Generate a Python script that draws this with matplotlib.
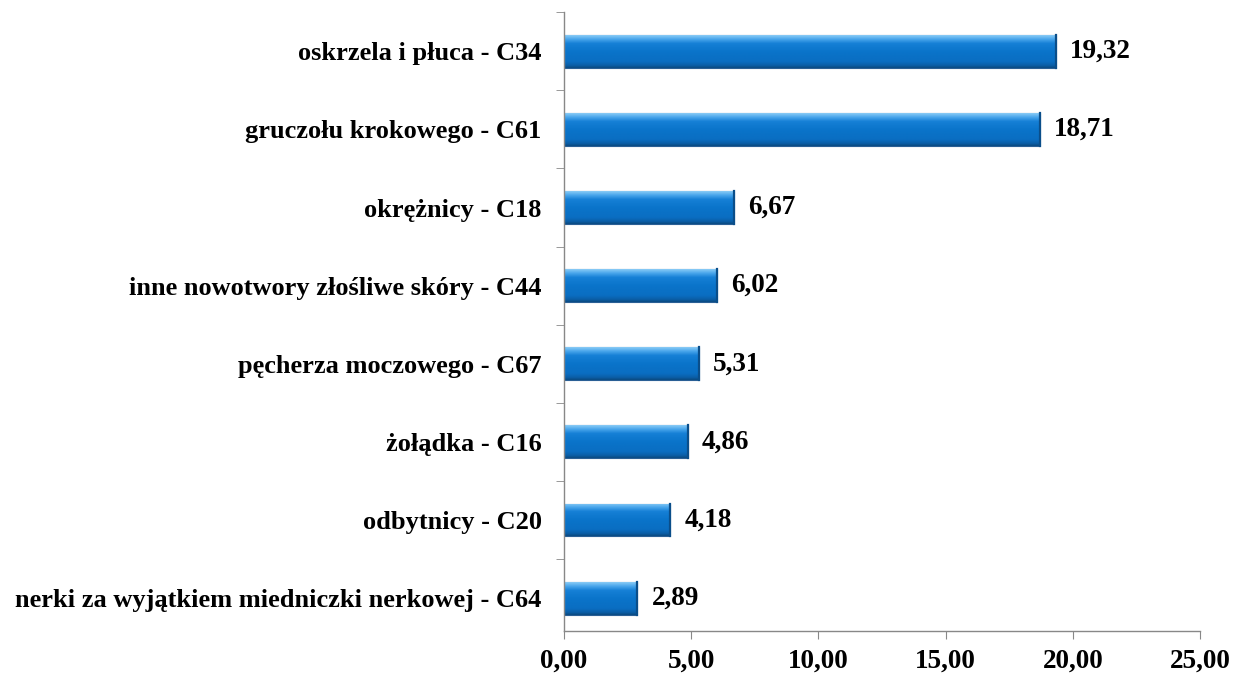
import matplotlib
matplotlib.use("Agg")
import matplotlib.pyplot as plt
import numpy as np
from matplotlib.colors import LinearSegmentedColormap

categories = [
    "oskrzela i płuca - C34",
    "gruczołu krokowego - C61",
    "okrężnicy - C18",
    "inne nowotwory złośliwe skóry - C44",
    "pęcherza moczowego - C67",
    "żołądka - C16",
    "odbytnicy - C20",
    "nerki za wyjątkiem miedniczki nerkowej - C64",
]
values = [19.32, 18.71, 6.67, 6.02, 5.31, 4.86, 4.18, 2.89]
xticks = [0, 5, 10, 15, 20, 25]
xtick_labels = ["0,00", "5,00", "10,00", "15,00", "20,00", "25,00"]

plt.rcParams['font.family'] = ['Liberation Serif', 'DejaVu Serif']

fig = plt.figure(figsize=(12.34, 6.77), dpi=100)
ax = fig.add_axes([0.457, 0.068, 0.5155, 0.914])

n = len(categories)
ypos = np.arange(n)[::-1]
bh = 0.42
bars = ax.barh(ypos, values, height=bh, color='#0A72C8', edgecolor='#2A5F95', linewidth=0.8, zorder=2)

cmap = LinearSegmentedColormap.from_list('bev', [
    (0.0, '#8ACCF6'), (0.12, '#4AA6EC'), (0.25, '#1680D6'),
    (0.5, '#0A74CA'), (0.8, '#0A6EC2'), (0.92, '#0A5FA8'), (1.0, '#0B4A80')])
grad = np.linspace(0, 1, 128).reshape(-1, 1)
for b in bars:
    x0, y0 = b.get_x(), b.get_y()
    w, h = b.get_width(), b.get_height()
    im = ax.imshow(grad, extent=[x0, x0 + w, y0, y0 + h], origin='upper', aspect='auto',
                   cmap=cmap, zorder=2.5, interpolation='bilinear')
    im.set_clip_path(b)
    ax.plot([x0 + w, x0 + w], [y0, y0 + h], color='#0A4E8A', lw=1.6, zorder=3)

for y, v in zip(ypos, values):
    ax.text(v + 0.55, y, f"{v:.2f}".replace('.', ','), va='center', ha='left',
            fontsize=19.5, fontweight='bold', color='black')

ax.set_xlim(0, 25)
ax.set_ylim(-0.42, n - 0.5)
ax.set_xticks(xticks)
ax.set_xticklabels(xtick_labels, fontsize=19.5, fontweight='bold')
ax.set_yticks(ypos)
ax.set_yticklabels(categories, fontsize=19, fontweight='bold')
ax.tick_params(axis='y', which='major', length=0, pad=16)
ax.set_yticks(np.arange(0.5, n, 1), minor=True)
ax.tick_params(axis='y', which='minor', length=6, direction='out', color='#888888')
ax.tick_params(axis='x', length=6, direction='out', color='#888888', pad=7)

for s in ['top', 'right']:
    ax.spines[s].set_visible(False)
for s in ['left', 'bottom']:
    ax.spines[s].set_color('#888888')
    ax.spines[s].set_linewidth(1.0)

fig.savefig("out.png", dpi=100)
